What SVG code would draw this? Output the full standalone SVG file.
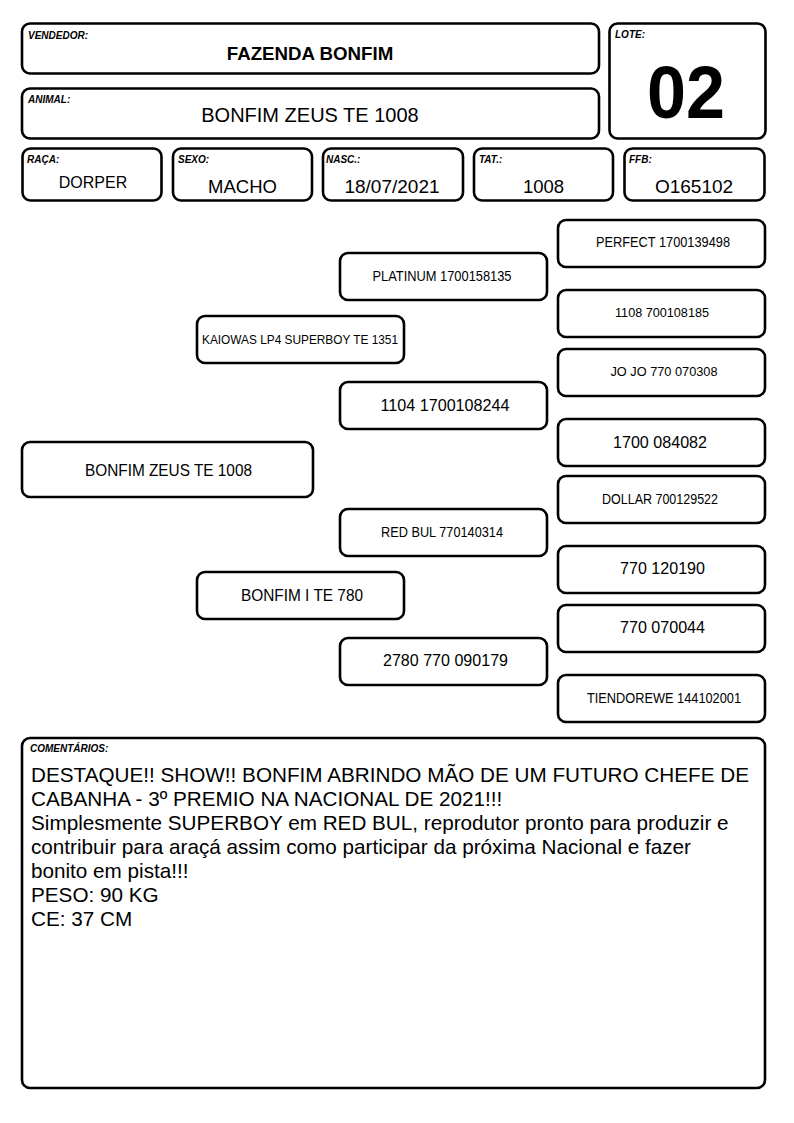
<svg xmlns="http://www.w3.org/2000/svg" width="794" height="1123" viewBox="0 0 794 1123">
<style>
.b{fill:#fff;stroke:#000;stroke-width:2.6}
.lbl{font-family:"Liberation Sans",Arial,sans-serif;font-size:10px;font-weight:bold;font-style:italic;fill:#000}
.t{font-family:"Liberation Sans",Arial,sans-serif;fill:#000;text-anchor:middle}
.c{font-family:"Liberation Sans",Arial,sans-serif;font-size:20.7px;fill:#000}
</style>
<rect width="794" height="1123" fill="#fff"/>
<g id="vendedor"><rect class="b" x="22" y="23.5" width="577" height="50" rx="8"/><text class="lbl" x="28" y="39">VENDEDOR:</text><text class="t" x="310" y="60" font-size="18.7" font-weight="bold">FAZENDA BONFIM</text></g>
<g id="animal"><rect class="b" x="22" y="88.5" width="577" height="50" rx="8"/><text class="lbl" x="28" y="103">ANIMAL:</text><text class="t" x="310" y="122" font-size="20">BONFIM ZEUS TE 1008</text></g>
<g id="lote"><rect class="b" x="609.5" y="23.5" width="156" height="115" rx="8"/><text class="lbl" x="615" y="38">LOTE:</text><text class="t" x="686" y="118" font-size="74" font-weight="bold" textLength="78" lengthAdjust="spacingAndGlyphs">02</text></g>
<g id="raca"><rect class="b" x="22.5" y="148.5" width="139" height="52" rx="8"/><text class="lbl" x="27" y="163">RAÇA:</text><text class="t" x="93" y="188" font-size="16">DORPER</text></g>
<g id="sexo"><rect class="b" x="173" y="148.5" width="139" height="52" rx="8"/><text class="lbl" x="178" y="163">SEXO:</text><text class="t" x="242.5" y="193" font-size="18.5">MACHO</text></g>
<g id="nasc"><rect class="b" x="323" y="148.5" width="140" height="52" rx="8"/><text class="lbl" x="326" y="163">NASC.:</text><text class="t" x="392" y="193" font-size="19">18/07/2021</text></g>
<g id="tat"><rect class="b" x="474" y="148.5" width="139" height="52" rx="8"/><text class="lbl" x="479" y="163">TAT.:</text><text class="t" x="543.5" y="193" font-size="18.5">1008</text></g>
<g id="ffb"><rect class="b" x="624.5" y="148.5" width="140" height="52" rx="8"/><text class="lbl" x="629" y="163">FFB:</text><text class="t" x="694" y="193" font-size="19">O165102</text></g>
<g id="connectors"></g>
<g id="g3-1"><rect class="b" x="558" y="220" width="207" height="47" rx="8"/><text class="t" x="663" y="247" font-size="14" textLength="134" lengthAdjust="spacingAndGlyphs">PERFECT 1700139498</text></g>
<g id="g2-1"><rect class="b" x="340" y="253" width="207" height="47" rx="8"/><text class="t" x="442" y="281" font-size="14" textLength="139" lengthAdjust="spacingAndGlyphs">PLATINUM 1700158135</text></g>
<g id="g3-2"><rect class="b" x="558" y="290" width="207" height="47" rx="8"/><text class="t" x="662" y="317" font-size="12.5" textLength="94" lengthAdjust="spacingAndGlyphs">1108 700108185</text></g>
<g id="g1-1"><rect class="b" x="197" y="316" width="207" height="47" rx="8"/><text class="t" x="300" y="344" font-size="13" textLength="196" lengthAdjust="spacingAndGlyphs">KAIOWAS LP4 SUPERBOY TE 1351</text></g>
<g id="g3-3"><rect class="b" x="558" y="349" width="207" height="47" rx="8"/><text class="t" x="664" y="376" font-size="13.5" textLength="107" lengthAdjust="spacingAndGlyphs">JO JO 770 070308</text></g>
<g id="g2-2"><rect class="b" x="340" y="382" width="207" height="47" rx="8"/><text class="t" x="445" y="411" font-size="16" textLength="129" lengthAdjust="spacingAndGlyphs">1104 1700108244</text></g>
<g id="g3-4"><rect class="b" x="558" y="419" width="207" height="47" rx="8"/><text class="t" x="660" y="448" font-size="16.5" textLength="94" lengthAdjust="spacingAndGlyphs">1700 084082</text></g>
<g id="subject"><rect class="b" x="22" y="442" width="291" height="55" rx="8"/><text class="t" x="168.5" y="476" font-size="17" textLength="167" lengthAdjust="spacingAndGlyphs">BONFIM ZEUS TE 1008</text></g>
<g id="g3-5"><rect class="b" x="558" y="476" width="207" height="47" rx="8"/><text class="t" x="660" y="504" font-size="14" textLength="116" lengthAdjust="spacingAndGlyphs">DOLLAR 700129522</text></g>
<g id="g2-3"><rect class="b" x="340" y="509" width="207" height="47" rx="8"/><text class="t" x="442" y="537" font-size="14" textLength="122" lengthAdjust="spacingAndGlyphs">RED BUL 770140314</text></g>
<g id="g3-6"><rect class="b" x="558" y="546" width="207" height="47" rx="8"/><text class="t" x="662.5" y="574" font-size="16.5" textLength="85" lengthAdjust="spacingAndGlyphs">770 120190</text></g>
<g id="g1-2"><rect class="b" x="197" y="572" width="207" height="47" rx="8"/><text class="t" x="302" y="601" font-size="16" textLength="122" lengthAdjust="spacingAndGlyphs">BONFIM I TE 780</text></g>
<g id="g3-7"><rect class="b" x="558" y="605" width="207" height="47" rx="8"/><text class="t" x="662.5" y="633" font-size="16.5" textLength="85" lengthAdjust="spacingAndGlyphs">770 070044</text></g>
<g id="g2-4"><rect class="b" x="340" y="638" width="207" height="47" rx="8"/><text class="t" x="445.5" y="666" font-size="16" textLength="125" lengthAdjust="spacingAndGlyphs">2780 770 090179</text></g>
<g id="g3-8"><rect class="b" x="558" y="675" width="207" height="47" rx="8"/><text class="t" x="664" y="703" font-size="14" textLength="154" lengthAdjust="spacingAndGlyphs">TIENDOREWE 144102001</text></g>
<g id="comentarios"><rect class="b" x="22" y="738" width="743" height="350" rx="8"/><text class="lbl" x="30" y="752">COMENTÁRIOS:</text>
<text class="c" x="31" y="782">DESTAQUE!! SHOW!! BONFIM ABRINDO MÃO DE UM FUTURO CHEFE DE</text>
<text class="c" x="31" y="806">CABANHA - 3º PREMIO NA NACIONAL DE 2021!!!</text>
<text class="c" x="31" y="830">Simplesmente SUPERBOY em RED BUL, reprodutor pronto para produzir e</text>
<text class="c" x="31" y="854">contribuir para araçá assim como participar da próxima Nacional e fazer</text>
<text class="c" x="31" y="878">bonito em pista!!!</text>
<text class="c" x="31" y="902">PESO: 90 KG</text>
<text class="c" x="31" y="926">CE: 37 CM</text></g>
</svg>
